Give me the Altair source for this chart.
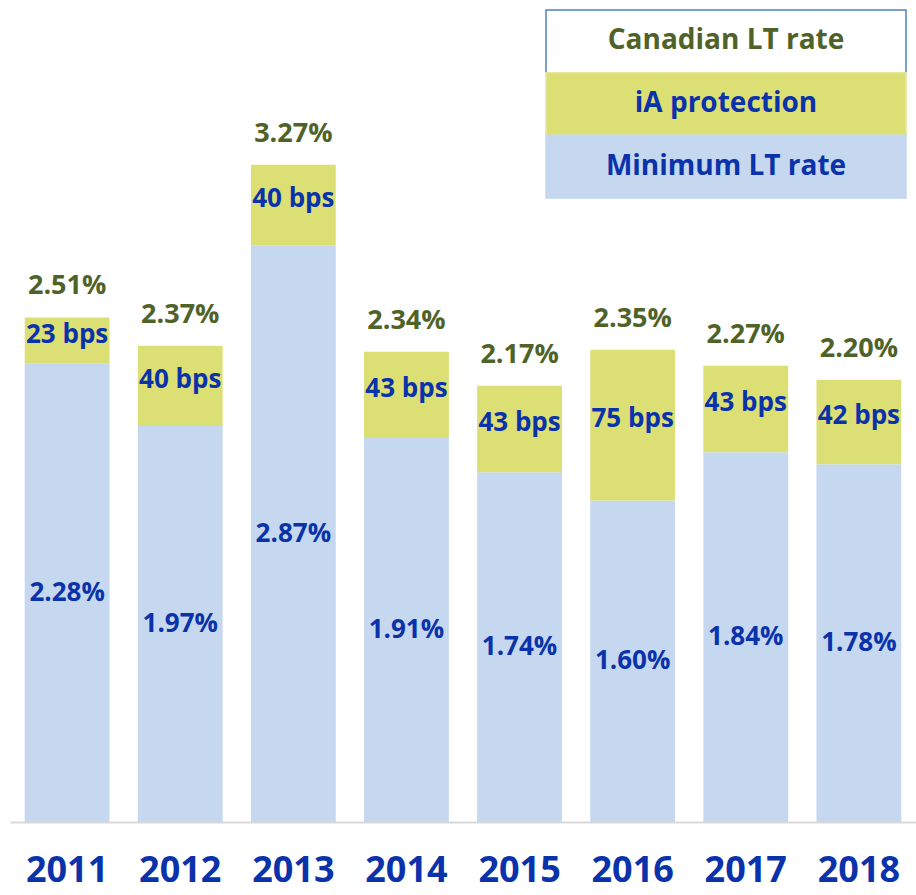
import altair as alt
import pandas as pd

years = ["2011", "2012", "2013", "2014", "2015", "2016", "2017", "2018"]
minimum_lt_rate = [2.28, 1.97, 2.87, 1.91, 1.74, 1.60, 1.84, 1.78]
ia_protection_bps = [23, 40, 40, 43, 43, 75, 43, 42]
canadian_lt_rate = [2.51, 2.37, 3.27, 2.34, 2.17, 2.35, 2.27, 2.20]
legend_items = ["Canadian LT rate", "iA protection", "Minimum LT rate"]

BLUE_BAR = "#c5d8ef"
YELLOW = "#dcdf74"
LABEL_BLUE = "#0a32aa"
GREEN = "#4f6228"
FONT = "Open Sans"

df = pd.DataFrame({
    "year": years,
    "min": minimum_lt_rate,
    "bps": ia_protection_bps,
    "total": canadian_lt_rate,
})
df["min_label"] = df["min"].map(lambda v: f"{v:.2f}%")
df["bps_label"] = df["bps"].map(lambda v: f"{v} bps")
df["total_label"] = df["total"].map(lambda v: f"{v:.2f}%")
df["mid_prot"] = (df["min"] + df["total"]) / 2
df["mid_min"] = df["min"] / 2

x = alt.X("year:N", sort=years,
          scale=alt.Scale(paddingInner=0.25, paddingOuter=0.13),
          axis=alt.Axis(title=None, labelAngle=0, labelFontSize=36, labelFont=FONT,
                        labelFontWeight="bold", labelColor=LABEL_BLUE, ticks=False,
                        domainColor="#d9d9d9", domainWidth=2, labelPadding=31, grid=False))
yscale = alt.Scale(domain=[0, 4], nice=False)

base = alt.Chart(df)

bars_min = base.mark_bar(color=BLUE_BAR).encode(
    x=x,
    y=alt.Y("min:Q", scale=yscale, axis=None),
)
bars_prot = base.mark_bar(color=YELLOW).encode(
    x=x,
    y=alt.Y("min:Q", scale=yscale, axis=None),
    y2="total:Q",
)
txt_min = base.mark_text(font=FONT, fontSize=26, fontWeight="bold", color=LABEL_BLUE).encode(
    x=x, y=alt.Y("mid_min:Q", scale=yscale, axis=None), text="min_label:N")
txt_prot = base.mark_text(font=FONT, fontSize=26, fontWeight="bold", color=LABEL_BLUE, dy=-6).encode(
    x=x, y=alt.Y("mid_prot:Q", scale=yscale, axis=None), text="bps_label:N")
txt_total = base.mark_text(font=FONT, fontSize=27, fontWeight="bold", color=GREEN, dy=-31).encode(
    x=x, y=alt.Y("total:Q", scale=yscale, axis=None), text="total_label:N")

leg_df = pd.DataFrame({"item": legend_items})
leg_scale = alt.Scale(range=[-8, 180], paddingInner=0, paddingOuter=0)
leg_rect = alt.Chart(leg_df).mark_rect(strokeWidth=1.5).encode(
    x=alt.value(536), x2=alt.value(896),
    y=alt.Y("item:N", sort=legend_items, axis=None, scale=leg_scale),
    fill=alt.Fill("item:N", legend=None,
                  scale=alt.Scale(domain=legend_items, range=["#ffffff", YELLOW, BLUE_BAR])),
    stroke=alt.Stroke("item:N", legend=None,
                      scale=alt.Scale(domain=legend_items, range=["#4f81bd", "#e6e89c", BLUE_BAR])),
)
leg_text = alt.Chart(leg_df).mark_text(font=FONT, fontSize=28, fontWeight="bold").encode(
    x=alt.value(716),
    y=alt.Y("item:N", sort=legend_items, axis=None, scale=leg_scale, bandPosition=0.5),
    text="item:N",
    color=alt.condition(alt.datum.item == "Canadian LT rate", alt.value(GREEN), alt.value(LABEL_BLUE)),
)

bars = alt.layer(bars_min, bars_prot, txt_min, txt_prot, txt_total)
legend = alt.layer(leg_rect, leg_text)

chart = alt.layer(bars, legend).resolve_scale(y="independent", fill="independent", stroke="independent").properties(
    width=906, height=804,
    autosize=alt.AutoSizeParams(type="none"),
    padding={"left": 10, "top": 18, "right": 0, "bottom": 73},
).configure_view(stroke=None)

chart.save("out.html", embed_options={"renderer": "svg", "actions": False})
